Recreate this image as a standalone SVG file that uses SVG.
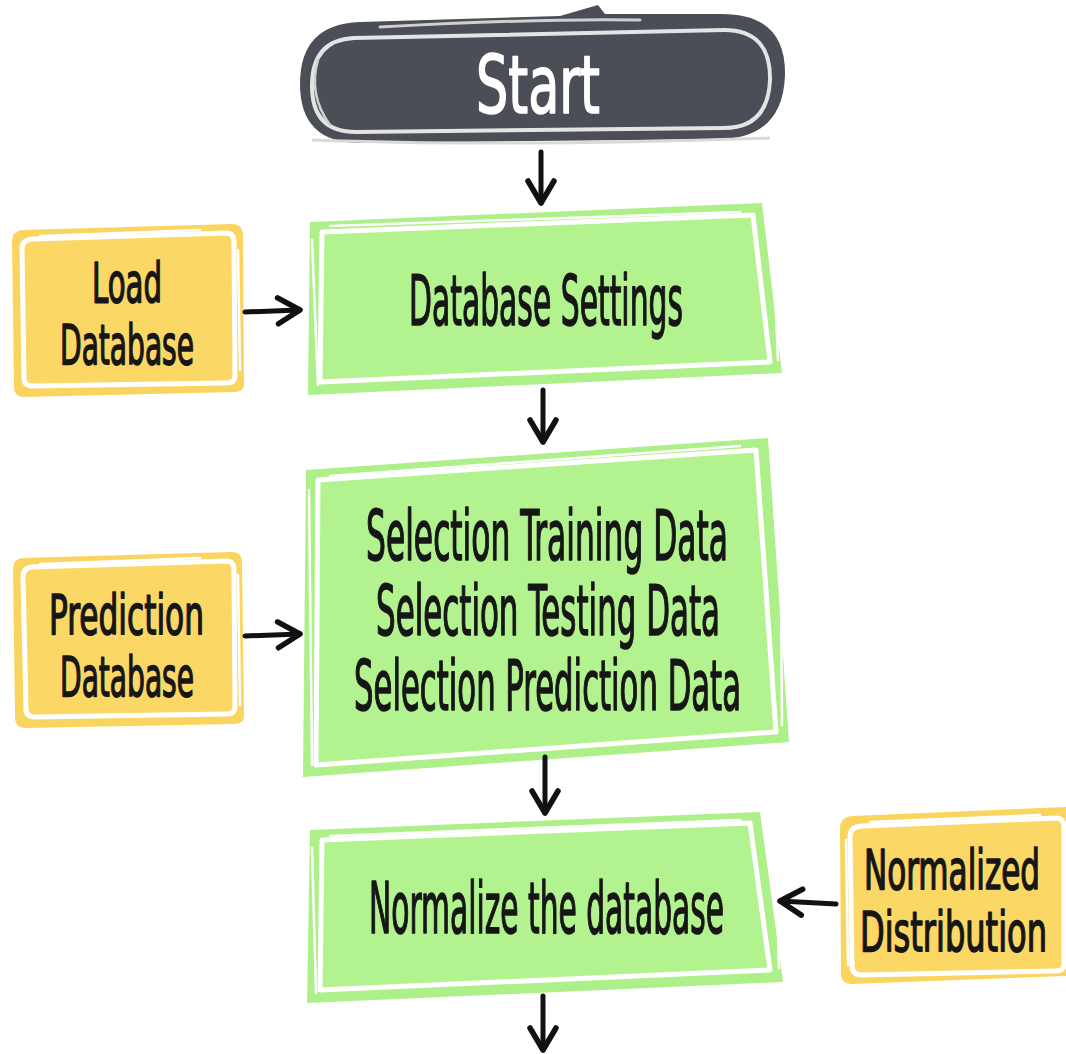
<svg xmlns="http://www.w3.org/2000/svg" width="1066" height="1054" viewBox="0 0 1066 1054">
<defs>
<style>
.lbl{font-family:"DejaVu Sans Condensed","Liberation Sans Narrow","Liberation Sans",sans-serif;font-weight:normal;fill:#161616;stroke:#161616;stroke-width:1.6;stroke-linejoin:round}
.ylbl{font-size:56px}
.start{font-family:"DejaVu Sans Condensed","Liberation Sans Narrow","Liberation Sans",sans-serif;font-weight:normal;fill:#ffffff;stroke:#ffffff;stroke-width:1.6;stroke-linejoin:round}
.gOuter{fill:#adef88}
.gInner{fill:#b2f38f;stroke:#ffffff;stroke-width:5;stroke-linejoin:round}
.yOuter{fill:#f9d55f}
.yInner{fill:#fbd866;stroke:#ffffff;stroke-width:5;stroke-linejoin:round}
.sk{fill:none;stroke:#ffffff;stroke-width:2.5;stroke-linecap:round}
.conn{fill:none;stroke:#111111;stroke-width:5;stroke-linecap:round}
</style>
<marker id="ah" markerUnits="userSpaceOnUse" viewBox="-26 -16 30 32" refX="0" refY="0" markerWidth="30" markerHeight="32" orient="auto">
<path d="M-22,-13 L0,0 L-22,13" fill="none" stroke="#111111" stroke-width="5.5" stroke-linecap="round" stroke-linejoin="round"/>
</marker>
</defs>

<g id="node-start">
<path d="M360,22 L560,16 L598,5 L605,14 L722,14 Q786,14 785,75 Q783,136 724,139 L360,143 Q300,143 300,84 Q300,24 360,22 Z" fill="#4b4d57"/>
<path d="M312,140 Q500,147 770,138" fill="none" stroke="#d9d9d9" stroke-width="3"/>
<path d="M354,38 L724,30 Q771,30 770,80 Q768,128 724,128 L356,132 Q312,132 312,86 Q312,40 354,38 Z" fill="none" stroke="#e4e4e4" stroke-width="4"/>
<path d="M380,27 Q550,18 640,20" fill="none" stroke="#d0d0d0" stroke-width="3" stroke-linecap="round"/>
<path d="M318,60 Q308,95 330,125" fill="none" stroke="#d0d0d0" stroke-width="2.5" stroke-linecap="round"/>
<text class="start" transform="translate(476,113) scale(0.5,1)" font-size="80" textLength="248" lengthAdjust="spacingAndGlyphs">Start</text>
</g>

<g id="node-database-settings">
<polygon class="gOuter" points="310,222 762,203 782,373 308,395"/>
<polygon class="gInner" points="322,232 753,215 770,362 320,382"/>
<path class="sk" d="M330,226 L740,212 M772,225 L778,360 M312,240 L318,385"/>
<text class="lbl" transform="translate(409,325) scale(0.5,1)" font-size="70" textLength="548" lengthAdjust="spacingAndGlyphs">Database Settings</text>
</g>

<g id="node-selection">
<polygon class="gOuter" points="306,470 768,438 789,742 303,777"/>
<polygon class="gInner" points="318,480 756,450 776,732 316,765"/>
<path class="sk" d="M330,476 L740,446 M780,460 L782,725 M309,490 L312,765"/>
<text class="lbl" transform="translate(366,560) scale(0.5,1)" font-size="70" textLength="724" lengthAdjust="spacingAndGlyphs">Selection Training Data</text>
<text class="lbl" transform="translate(376,635) scale(0.5,1)" font-size="70" textLength="688" lengthAdjust="spacingAndGlyphs">Selection Testing Data</text>
<text class="lbl" transform="translate(354,710) scale(0.5,1)" font-size="70" textLength="774" lengthAdjust="spacingAndGlyphs">Selection Prediction Data</text>
</g>

<g id="node-normalize">
<polygon class="gOuter" points="310,830 760,812 783,982 307,1003"/>
<polygon class="gInner" points="322,840 750,823 770,970 320,990"/>
<path class="sk" d="M330,836 L740,820 M775,830 L779,968 M312,848 L316,993"/>
<text class="lbl" transform="translate(369,933) scale(0.5,1)" font-size="72" textLength="710" lengthAdjust="spacingAndGlyphs">Normalize the database</text>
</g>

<g id="node-load-database">
<path class="yOuter" d="M22,230 L232,224 Q243,224 243,236 L244,385 Q244,392 234,392 L24,397 Q14,397 14,386 L12,242 Q12,231 22,230 Z"/>
<path class="yInner" d="M32,239 L226,233 Q234,233 234,242 L235,376 Q235,383 227,383 L33,386 Q24,386 24,378 L22,249 Q22,240 32,239 Z"/>
<path class="sk" d="M40,236 L200,230 M238,250 L240,370"/>
<text class="lbl ylbl" transform="translate(92,302) scale(0.5,1)" textLength="140" lengthAdjust="spacingAndGlyphs">Load</text>
<text class="lbl ylbl" transform="translate(60,364) scale(0.5,1)" textLength="268" lengthAdjust="spacingAndGlyphs">Database</text>
</g>

<g id="node-prediction-database">
<path class="yOuter" d="M22,558 L232,552 Q242,552 242,563 L244,716 Q244,724 234,724 L26,728 Q15,728 15,717 L13,570 Q13,559 22,558 Z"/>
<path class="yInner" d="M32,567 L226,561 Q234,561 234,570 L235,707 Q235,714 227,714 L35,717 Q26,717 26,709 L23,577 Q23,568 32,567 Z"/>
<path class="sk" d="M40,564 L200,558 M238,575 L240,705"/>
<text class="lbl ylbl" transform="translate(49,634) scale(0.5,1)" textLength="310" lengthAdjust="spacingAndGlyphs">Prediction</text>
<text class="lbl ylbl" transform="translate(60,696) scale(0.5,1)" textLength="268" lengthAdjust="spacingAndGlyphs">Database</text>
</g>

<g id="node-normalized-distribution">
<path class="yOuter" d="M852,816 L1066,807 L1066,976 L852,984 Q841,984 841,973 L840,828 Q840,817 852,816 Z"/>
<path class="yInner" d="M862,826 L1056,818 Q1064,818 1064,827 L1064,964 Q1064,971 1056,971 L862,975 Q852,975 852,966 L850,836 Q850,827 862,826 Z"/>
<path class="sk" d="M870,822 L1040,815 M846,840 L848,965"/>
<text class="lbl ylbl" transform="translate(864,889) scale(0.5,1)" textLength="352" lengthAdjust="spacingAndGlyphs">Normalized</text>
<text class="lbl ylbl" transform="translate(860,951) scale(0.5,1)" textLength="374" lengthAdjust="spacingAndGlyphs">Distribution</text>
</g>

<g id="connectors">
<path class="conn" d="M541,152 L541,203" marker-end="url(#ah)"/>
<path class="conn" d="M543,390 L543,442" marker-end="url(#ah)"/>
<path class="conn" d="M545,757 L545,813" marker-end="url(#ah)"/>
<path class="conn" d="M543,996 L543,1050" marker-end="url(#ah)"/>
<path class="conn" d="M245,312 L300,310" marker-end="url(#ah)"/>
<path class="conn" d="M245,636 L300,634" marker-end="url(#ah)"/>
<path class="conn" d="M836,904 L780,901" marker-end="url(#ah)"/>
</g>
</svg>
